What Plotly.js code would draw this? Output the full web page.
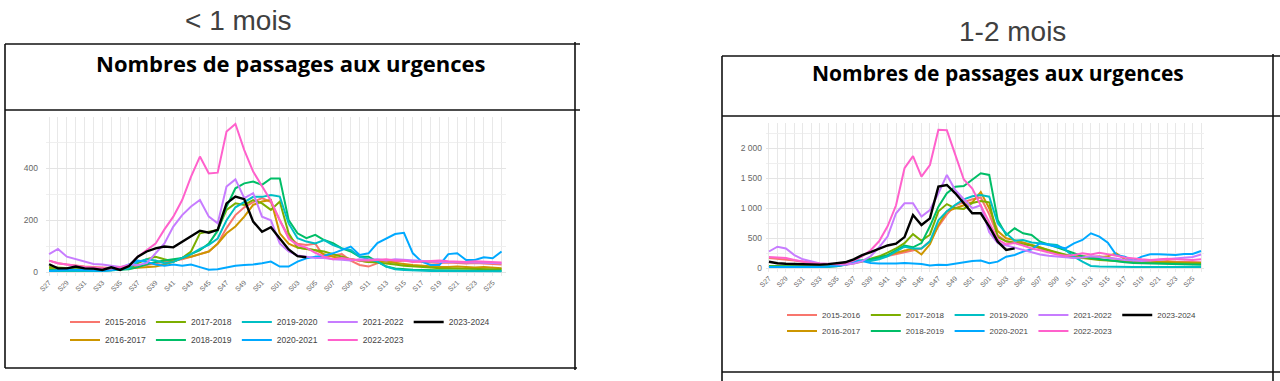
<!DOCTYPE html>
<html><head><meta charset="utf-8">
<script src="https://cdn.plot.ly/plotly-3.0.1.min.js"></script>
<style>html,body{margin:0;padding:0;background:#fff;}#chart{width:1280px;height:381px;}</style>
</head><body><div id="chart"></div>
<script>
const weeks = ['S27','S28','S29','S30','S31','S32','S33','S34','S35','S36','S37','S38','S39','S40','S41','S42','S43','S44','S45','S46','S47','S48','S49','S50','S51','S52',
  'S01','S02','S03','S04','S05','S06','S07','S08','S09','S10','S11','S12','S13','S14','S15','S16','S17','S18','S19','S20','S21','S22','S23','S24','S25','S26'];
const seasons = ['2015-2016','2016-2017','2017-2018','2018-2019','2019-2020','2020-2021','2021-2022','2022-2023','2023-2024'];
const colors = ['#F8766D','#CD9600','#7CAE00','#00BE67','#00BFC4','#00A9FF','#C77CFF','#FF61CC','#000000'];

// < 1 mois
const u1_1516 = [45,35,30,25,22,20,18,16,15,18,22,28,35,40,45,50,60,70,80,110,170,220,250,270,285,270,200,137,110,105,110,60,65,70,45,28,22,35,47,41,45,42,40,38,36,38,35,34,36,33,32,30];
const u1_1617 = [15,12,10,10,8,8,8,10,12,15,18,20,22,30,40,55,60,70,80,110,150,176,214,259,272,278,150,110,95,90,85,70,60,55,50,45,40,45,40,35,32,28,25,22,20,20,22,20,18,20,18,16];
const u1_1718 = [20,18,15,14,12,10,10,10,12,15,35,50,60,50,41,55,80,150,156,163,240,265,259,278,265,240,272,150,95,90,85,80,70,60,50,45,40,38,35,30,25,22,20,18,16,15,15,14,13,13,12,12];
const u1_1819 = [10,10,8,8,8,6,6,8,10,12,20,30,40,45,50,55,70,85,110,160,252,323,342,349,336,361,361,201,150,131,144,124,112,92,80,60,60,41,22,15,12,10,9,8,8,7,7,6,6,6,6,6];
const u1_1920 = [5,5,5,5,5,5,5,8,10,15,40,50,45,35,40,55,70,90,105,130,200,250,270,290,290,297,291,188,131,118,111,124,105,92,86,60,50,41,22,12,9,7,6,5,5,5,4,4,4,4,4,4];
const u1_2021 = [5,8,10,10,8,8,6,8,15,30,45,40,30,25,30,25,30,20,10,12,18,25,28,30,35,41,22,22,41,54,60,64,73,86,99,67,73,112,130,147,152,73,41,28,28,70,73,47,47,58,54,80];
const u1_2122 = [70,90,60,50,40,32,30,25,20,30,28,35,73,111,176,220,253,278,214,188,330,357,285,304,214,200,111,80,65,60,55,55,50,48,45,50,48,50,45,50,48,45,42,40,40,40,38,38,38,36,36,35];
const u1_2223 = [45,35,30,25,20,18,15,15,20,25,60,85,110,165,214,278,368,445,380,383,541,570,470,387,330,275,200,130,105,95,75,60,50,55,50,45,45,48,50,45,45,40,42,45,45,42,40,40,42,40,38,38];
const u1_2324 = [31,15,15,22,15,14,9,19,9,24,60,80,92,99,96,118,137,160,152,163,265,291,281,195,156,173,130,88,62,58];

// 1-2 mois
const m12_1516 = [170,160,150,130,110,90,75,65,60,60,80,110,140,170,200,230,270,300,330,450,700,900,1050,1100,1150,1180,900,550,450,430,420,380,330,280,250,200,170,180,190,200,180,150,130,120,110,100,110,120,110,105,100,100];
const m12_1617 = [30,30,28,25,25,25,25,30,40,60,90,120,150,180,220,260,300,330,230,400,720,950,1000,1050,1100,1270,1000,620,500,470,430,400,350,300,250,220,200,200,190,180,200,250,150,120,110,100,110,100,100,95,90,90];
const m12_1718 = [40,38,35,33,30,30,30,35,45,70,100,130,160,200,260,330,420,570,460,560,950,1070,1000,990,1090,1120,1100,520,450,420,400,380,340,300,260,220,190,170,150,140,130,120,110,100,95,90,90,85,85,80,80,80];
const m12_1819 = [30,28,25,25,22,22,22,25,35,60,100,120,150,180,220,300,380,350,420,700,1028,1250,1361,1372,1472,1583,1556,806,556,667,583,556,444,400,350,300,250,200,170,150,130,110,100,90,85,80,75,70,70,65,65,60];
const m12_1920 = [20,20,18,18,18,18,20,30,60,100,140,130,120,150,200,280,360,330,330,450,800,950,1060,1150,1200,1220,1194,750,583,460,470,430,420,400,389,306,194,111,39,30,25,25,22,22,20,20,20,20,20,20,20,20];
const m12_2021 = [20,22,25,25,22,22,20,25,40,60,110,120,90,80,75,80,90,85,70,45,60,55,80,100,120,130,85,111,194,222,278,317,417,390,361,333,417,472,583,528,428,222,194,128,194,233,233,222,222,239,239,289];
const m12_2122 = [280,360,330,220,150,110,80,70,60,60,80,120,200,350,528,917,1083,1083,861,972,1250,1556,1300,1150,1000,1050,600,420,380,350,300,260,230,210,200,180,170,180,200,190,180,160,140,130,120,130,140,150,160,170,190,230];
const m12_2223 = [190,180,170,140,110,90,80,70,70,80,130,200,300,450,700,1050,1667,1870,1528,1722,2310,2300,1900,1480,1330,1050,750,480,400,420,380,330,300,260,230,210,220,250,230,260,240,210,180,160,150,140,150,160,150,140,140,150];
const m12_2324 = [110,85,75,70,65,62,62,70,80,100,150,220,270,320,380,410,520,889,722,833,1361,1389,1250,1083,917,917,694,444,306,333];

const panelTitles = ['< 1 mois','1-2 mois'];
const heading = 'Nombres de passages aux urgences';

const leftSeries = [u1_1516,u1_1617,u1_1718,u1_1819,u1_1920,u1_2021,u1_2122,u1_2223,u1_2324];
const rightSeries = [m12_1516,m12_1617,m12_1718,m12_1819,m12_1920,m12_2021,m12_2122,m12_2223,m12_2324];

const W = 1280, H = 381;
const px = v => v / W;
const py = v => 1 - v / H;

const row1 = [0,2,4,6,8];
const traces = [];
function addTraces(series, xa, ya, legA, legB) {
  series.forEach((vals, s) => {
    traces.push({
      type: 'scatter', mode: 'lines',
      x: vals.map((_, i) => i), y: vals,
      xaxis: xa, yaxis: ya,
      name: seasons[s],
      line: {color: colors[s], width: s === 8 ? 2.4 : 2},
      legend: row1.includes(s) ? legA : legB,
      showlegend: true, hoverinfo: 'skip'
    });
  });
}
addTraces(leftSeries, 'x', 'y', 'legend', 'legend2');
addTraces(rightSeries, 'x2', 'y2', 'legend3', 'legend4');

const tickIdx = weeks.map((_, i) => i).filter(i => i % 2 === 0);
const tickTxt = tickIdx.map(i => weeks[i]);

const gridC = '#e8e8e8';
function xAxis(domain, range, anchor) {
  return {
    domain, range, anchor, tickmode: 'array', tickvals: tickIdx, ticktext: tickTxt,
    tickangle: -45, tickfont: {family: 'Liberation Sans, Arial', size: 7, color: '#666'},
    showgrid: true, gridcolor: gridC, gridwidth: 1,
    minor: {tickmode: 'linear', tick0: 0, dtick: 1, showgrid: true, gridcolor: gridC, gridwidth: 1},
    zeroline: false, showline: false, ticks: '', fixedrange: true
  };
}
function yAxis(domain, range, anchor, dtick, standoff) {
  return {
    domain, range, anchor, tickmode: 'linear', tick0: 0, dtick,
    tickfont: {family: 'Liberation Sans, Arial', size: 8.5, color: '#666'},
    ticklabelstandoff: standoff,
    showgrid: true, gridcolor: '#e4e4e4', gridwidth: 1,
    minor: {tickmode: 'linear', tick0: 0, dtick: dtick / 2, showgrid: true, gridcolor: '#efefef', gridwidth: 1},
    zeroline: false, showline: false, ticks: '', separatethousands: true, fixedrange: true
  };
}

function legendCfg(xp, yp, size) {
  return {
    orientation: 'h', x: px(xp), xanchor: 'left', y: py(yp), yanchor: 'middle',
    font: {family: 'Liberation Sans, Arial', size, color: '#444'},
    bgcolor: 'rgba(0,0,0,0)', borderwidth: 0, tracegroupgap: 0, itemclick: false
  };
}

function line(x0, y0, x1, y1) {
  return {type: 'line', xref: 'paper', yref: 'paper', x0: px(x0), y0: py(y0), x1: px(x1), y1: py(y1),
    line: {color: '#111', width: 1.6}};
}
const shapes = [
  line(5,44,580,44), line(5,110,580,110), line(5,368,577,368), line(5,44,5,368), line(575,42,575,370),
  line(722,56,1280,56), line(722,116,1280,116), line(722,372,1280,372), line(722,56,722,381), line(1273,54,1273,381)
];

const annotations = [
  {text: panelTitles[0].replace('<','&lt;'), x: px(238), y: py(20), xref: 'paper', yref: 'paper', showarrow: false,
   xanchor: 'center', yanchor: 'middle', font: {family: 'Liberation Sans, Arial', size: 28, color: '#404040'}},
  {text: panelTitles[1], x: px(1012), y: py(31), xref: 'paper', yref: 'paper', showarrow: false,
   xanchor: 'center', yanchor: 'middle', font: {family: 'Liberation Sans, Arial', size: 28, color: '#404040'}},
  {text: heading, x: px(291), y: py(63), xref: 'paper', yref: 'paper', showarrow: false,
   xanchor: 'center', yanchor: 'middle', font: {family: 'Open Sans', size: 22, color: '#000', weight: 700}},
  {text: heading, x: px(998), y: py(73), xref: 'paper', yref: 'paper', showarrow: false,
   xanchor: 'center', yanchor: 'middle', font: {family: 'Open Sans', size: 21, color: '#000', weight: 700}}
];

const layout = {
  width: W, height: H, margin: {l: 0, r: 0, t: 0, b: 0},
  paper_bgcolor: '#fff', plot_bgcolor: '#fff',
  separators: ', ',
  showlegend: true, hovermode: false,
  xaxis: xAxis([px(46), px(506)], [-0.35, 51.5], 'y'),
  yaxis: yAxis([py(276.2), py(117)], [-15, 597], 'x', 200, 7),
  xaxis2: xAxis([px(766), px(1204)], [-0.35, 51.35], 'y2'),
  yaxis2: yAxis([py(271.9), py(123.1)], [-60, 2420], 'x2', 500, 3),
  legend: legendCfg(65, 322, 8.5),
  legend2: legendCfg(65, 340, 8.5),
  legend3: legendCfg(782, 315, 8),
  legend4: legendCfg(782, 331, 8),
  shapes, annotations
};

Plotly.newPlot('chart', traces, layout, {staticPlot: true, displayModeBar: false});
</script></body></html>
